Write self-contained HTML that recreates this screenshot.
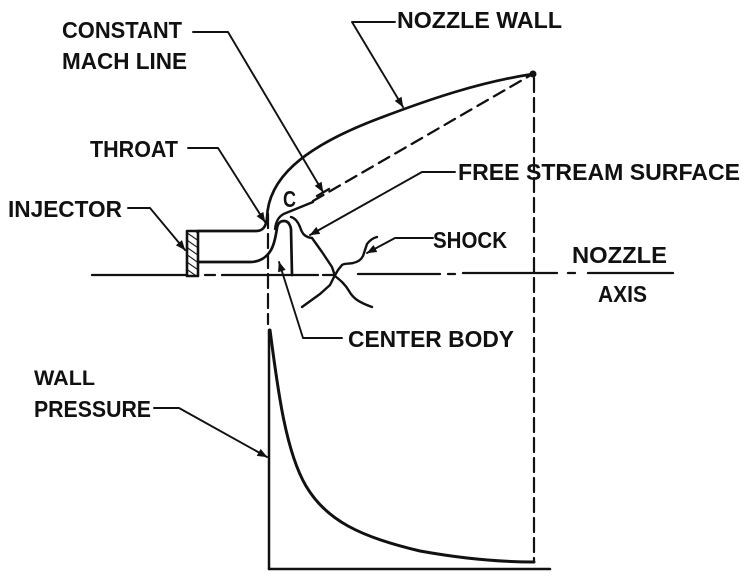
<!DOCTYPE html>
<html>
<head>
<meta charset="utf-8">
<style>
html,body{margin:0;padding:0;background:#fff;}
svg{display:block;}
text{font-family:"Liberation Sans",Arial,sans-serif;font-weight:bold;font-size:23px;fill:#111;}
</style>
</head>
<body>
<svg width="749" height="578" viewBox="0 0 749 578" xmlns="http://www.w3.org/2000/svg">
<defs>
<marker id="ah" viewBox="0 0 10 8" refX="9.5" refY="4" markerWidth="11" markerHeight="8" markerUnits="userSpaceOnUse" orient="auto">
<path d="M0,0 L10,4 L0,8 Z" fill="#111"/>
</marker>
<pattern id="hatch" patternUnits="userSpaceOnUse" width="6" height="6" patternTransform="rotate(-55)">
<rect width="6" height="6" fill="#fff"/>
<line x1="0" y1="0" x2="0" y2="6" stroke="#111" stroke-width="2.2"/>
</pattern>
</defs>

<g fill="none" stroke="#111" stroke-linecap="round" stroke-linejoin="round">
<!-- nozzle axis -->
<g stroke-width="2.3">
<line x1="92" y1="275" x2="198" y2="275"/>
<line x1="205" y1="275" x2="215" y2="275"/>
<line x1="222" y1="275" x2="318" y2="275"/>
<line x1="323" y1="275" x2="335" y2="275"/>
<line x1="358" y1="274" x2="440" y2="274"/>
<line x1="448" y1="274" x2="455" y2="274"/>
<line x1="463" y1="273" x2="557" y2="273"/>
<line x1="568" y1="273" x2="575" y2="273"/>
<line x1="588" y1="273" x2="673" y2="273"/>
</g>

<!-- injector -->
<rect x="187" y="231" width="11" height="45" fill="url(#hatch)" stroke-width="2.6"/>

<!-- channel top + nozzle wall -->
<path d="M198,231 L256,231 C262,231 266,228 267,218 C268,180 300,148 380,118 C430,99 480,82 533,74" stroke-width="2.7"/>
<circle cx="533" cy="74" r="3.5" fill="#111" stroke="none"/>

<!-- channel bottom + center body -->
<path d="M198,262 L250,262 C260,262 267,257 271,250 C275,243 276,234 277,228 C278,223 280,221 284,221 C288,221 290,224 291,229 L292,275" stroke-width="2.7"/>

<!-- constant mach line -->
<path d="M275,229 C276,220 280,215 286,213 L313,202" stroke-width="2.3"/>
<line x1="313" y1="201" x2="531" y2="75" stroke-width="2.3" stroke-dasharray="12,7"/>

<!-- throat vertical dashed -->
<line x1="268" y1="214" x2="268" y2="324" stroke-width="2.2" stroke-dasharray="14,6"/>
<!-- right vertical dashed -->
<line x1="534" y1="78" x2="534" y2="562" stroke-width="2.2" stroke-dasharray="14,6"/>

<!-- free stream surface -->
<path d="M291,217 C295,218 298,222 300,227 C302,233 304,237 312,238 L322,252 L332,267 L335,276 C340,280 345,284 349,291 C353,298 358,302 372,307" stroke-width="2.4"/>

<!-- shock -->
<path d="M302,307 L320,294 L330,285 L334,277 L338,270 L342,265 C345,263 350,264 353,263 C358,262 361,260 363,256 L367,244 C370,240 373,238 377,237" stroke-width="2.4"/>

<!-- leaders -->
<g stroke-width="1.9">
<path d="M193,32 L228,32 L323,192" marker-end="url(#ah)"/>
<line x1="317" y1="196" x2="329" y2="189" stroke-width="2.3"/>
<path d="M395,22 L352,22 L403,107" marker-end="url(#ah)"/>
<path d="M188,148 L218,148 L265,222" marker-end="url(#ah)"/>
<path d="M128,208 L150,208 L185,250" marker-end="url(#ah)"/>
<path d="M455,172 L422,172 L310,235" marker-end="url(#ah)"/>
<path d="M433,238 L395,238 L367,253" marker-end="url(#ah)"/>
<path d="M342,338 L303,338 L279,262" marker-end="url(#ah)"/>
<path d="M154,408 L179,408 L267,457" marker-end="url(#ah)"/>
</g>

<!-- pressure plot -->
<line x1="269" y1="330" x2="269" y2="569" stroke-width="2.5"/>
<line x1="269" y1="569" x2="550" y2="569" stroke-width="2.5"/>
<path d="M270,330 C278,392 286,452 306,486 C326,520 360,537 420,551 C470,560 510,562 534,562" stroke-width="3"/>
</g>

<!-- labels -->
<text x="62" y="38" textLength="120" lengthAdjust="spacingAndGlyphs">CONSTANT</text>
<text x="62" y="69" textLength="125" lengthAdjust="spacingAndGlyphs">MACH LINE</text>
<text x="397" y="28" textLength="165" lengthAdjust="spacingAndGlyphs">NOZZLE WALL</text>
<text x="90" y="157" textLength="88" lengthAdjust="spacingAndGlyphs">THROAT</text>
<text x="458" y="180" textLength="282" lengthAdjust="spacingAndGlyphs">FREE STREAM SURFACE</text>
<text x="8" y="217" textLength="114" lengthAdjust="spacingAndGlyphs">INJECTOR</text>
<text x="283" y="207" textLength="13" lengthAdjust="spacingAndGlyphs">C</text>
<text x="433" y="248" textLength="74" lengthAdjust="spacingAndGlyphs">SHOCK</text>
<text x="572" y="263" textLength="95" lengthAdjust="spacingAndGlyphs">NOZZLE</text>
<text x="598" y="302" textLength="49" lengthAdjust="spacingAndGlyphs">AXIS</text>
<text x="348" y="347" textLength="166" lengthAdjust="spacingAndGlyphs">CENTER BODY</text>
<text x="34" y="385" textLength="61" lengthAdjust="spacingAndGlyphs" style="font-size:21px">WALL</text>
<text x="34" y="417" textLength="117" lengthAdjust="spacingAndGlyphs">PRESSURE</text>
</svg>
</body>
</html>
